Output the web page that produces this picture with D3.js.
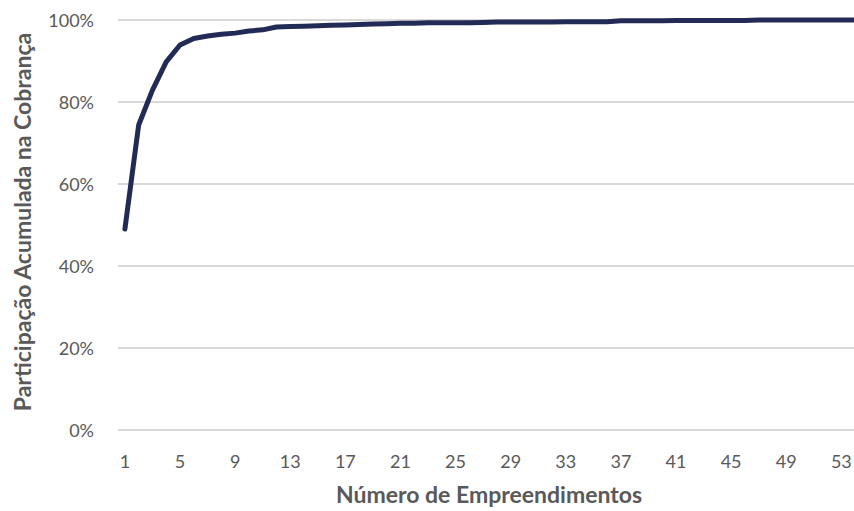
<!DOCTYPE html>
<html>
<head>
<meta charset="utf-8">
<script src="https://cdn.jsdelivr.net/npm/d3@7"></script>
<style>
  body { margin: 0; background: #fff; }
  svg { display: block; font-family: Lato, "Open Sans", sans-serif; }
</style>
</head>
<body>
<svg id="chart" width="854" height="511"></svg>
<script>
// number of projects (1..54)
var empreendimentos = d3.range(1, 55);

// cumulative share of billing
var participacao = [
    0.490, 0.744, 0.829, 0.898, 0.939, 0.955, 0.961, 0.965, 0.968, 0.973,
    0.976, 0.983, 0.984, 0.985, 0.986, 0.987, 0.988, 0.989, 0.990, 0.991,
    0.992, 0.992, 0.993, 0.993, 0.993, 0.993, 0.994, 0.995, 0.995, 0.995,
    0.995, 0.995, 0.996, 0.996, 0.996, 0.996, 0.998, 0.998, 0.998, 0.998,
    0.999, 0.999, 0.999, 0.999, 0.999, 0.999, 1.000, 1.000, 1.000, 1.000,
    1.000, 1.000, 1.000, 1.000
];

var yTicks = [0, 0.2, 0.4, 0.6, 0.8, 1.0];
var xTickLabels = d3.range(1, 55, 4);

var svg = d3.select('#chart');
var plotLeft = 118, plotRight = 862, plotTop = 20, plotBottom = 430;

var x = d3.scaleBand()
    .domain(empreendimentos)
    .range([plotLeft, plotRight]);

var y = d3.scaleLinear()
    .domain([0, 1])
    .range([plotBottom, plotTop]);

// Grid lines
svg.append('g')
    .selectAll('line')
    .data(yTicks)
    .enter()
    .append('line')
    .attr('x1', plotLeft)
    .attr('x2', plotRight)
    .attr('y1', function (d) { return y(d); })
    .attr('y2', function (d) { return y(d); })
    .attr('stroke', '#d9d9d9')
    .attr('stroke-width', 2);

// Y axis
var yAxis = svg.append('g')
    .attr('transform', 'translate(' + (plotLeft - 21) + ',0)')
    .call(d3.axisLeft(y).tickValues(yTicks).tickFormat(d3.format('.0%')).tickSize(0));
yAxis.select('.domain').remove();
yAxis.selectAll('text')
    .attr('fill', '#595959')
    .attr('font-size', 18)
    .attr('dy', '0.35em')
    .style('font-family', 'Lato, sans-serif');

// X axis
var xAxis = svg.append('g')
    .attr('transform', 'translate(0,' + (plotBottom + 22) + ')')
    .call(d3.axisBottom(x).tickValues(xTickLabels).tickSize(0));
xAxis.select('.domain').remove();
xAxis.selectAll('text')
    .attr('fill', '#595959')
    .attr('font-size', 18)
    .attr('dy', '0.71em')
    .style('font-family', 'Lato, sans-serif');

// Line
var line = d3.line()
    .x(function (d, i) { return x(empreendimentos[i]) + x.bandwidth() / 2; })
    .y(function (d) { return y(d); });

svg.append('path')
    .datum(participacao)
    .attr('d', line)
    .attr('fill', 'none')
    .attr('stroke', '#222b55')
    .attr('stroke-width', 5)
    .attr('stroke-linejoin', 'round')
    .attr('stroke-linecap', 'round');

// Axis titles
svg.append('text')
    .attr('x', 489)
    .attr('y', 503)
    .attr('text-anchor', 'middle')
    .attr('font-size', 23)
    .attr('font-weight', 'bold')
    .attr('fill', '#595959')
    .text('Número de Empreendimentos');

svg.append('text')
    .attr('transform', 'translate(31,222) rotate(-90)')
    .attr('text-anchor', 'middle')
    .attr('font-size', 23)
    .attr('font-weight', 'bold')
    .attr('fill', '#595959')
    .text('Participação Acumulada na Cobrança');
</script>
</body>
</html>
